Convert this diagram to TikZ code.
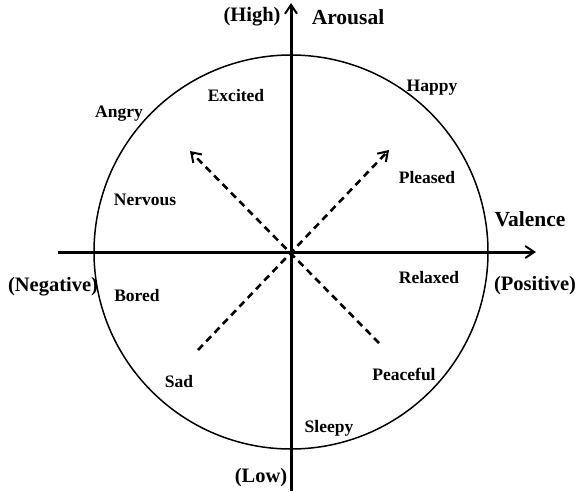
\documentclass[tikz,border=0pt]{standalone}
\usepackage{fontspec}
\setmainfont{Liberation Serif}
\usetikzlibrary{arrows.meta}
\tikzset{lbl/.style={font=\fontsize{17.5}{20}\selectfont\bfseries,inner sep=0pt},
  pole/.style={lbl,font=\fontsize{20.5}{22}\selectfont\bfseries},
  axtitle/.style={lbl,font=\fontsize{21.5}{24}\selectfont\bfseries}}

\begin{document}
\begin{tikzpicture}[x=1pt,y=-1pt,>={Straight Barb[length=9pt,width=12pt,line width=2pt]}]
\useasboundingbox (0,0) rectangle (576,491);
\coordinate (O) at (291,252);
\coordinate (xl) at (58,252);
\coordinate (xr) at (536,252);
\coordinate (yb) at (291,491);
\coordinate (yt) at (291,3);
\coordinate (sw) at (198,350);
\coordinate (ne) at (389,150);
\coordinate (se) at (379,343);
\coordinate (nw) at (190,151);
\draw[line width=1.5pt](O)circle[radius=197pt];
\draw[line width=3pt,->](xl)--(xr);
\draw[line width=3pt,->](yb)--(yt);
\draw[line width=2.6pt,dash pattern=on 7pt off 5pt,->](sw)--(ne);
\draw[line width=2.6pt,dash pattern=on 7pt off 5pt,->](se)--(nw);
\node[pole](high) at (252,17){(High)};
\node[axtitle](arousal) at (348,17){Arousal};
\node[lbl](excited) at (236,96){Excited};
\node[lbl](happy) at (432,88){Happy};
\node[lbl](angry) at (119,114){Angry};
\node[lbl](pleased) at (427,178){Pleased};
\node[lbl](nervous) at (145,200){Nervous};
\node[axtitle](valence) at (530,219){Valence};
\node[pole](negative) at (53,287){(Negative)};
\node[lbl](bored) at (137,296){Bored};
\node[lbl](relaxed) at (429,278){Relaxed};
\node[pole](positive) at (535,286){(Positive)};
\node[lbl](sad) at (179,382){Sad};
\node[lbl](peaceful) at (404,374){Peaceful};
\node[lbl](sleepy) at (329,428){Sleepy};
\node[pole](low) at (261,478){(Low)};
\end{tikzpicture}
\end{document}
